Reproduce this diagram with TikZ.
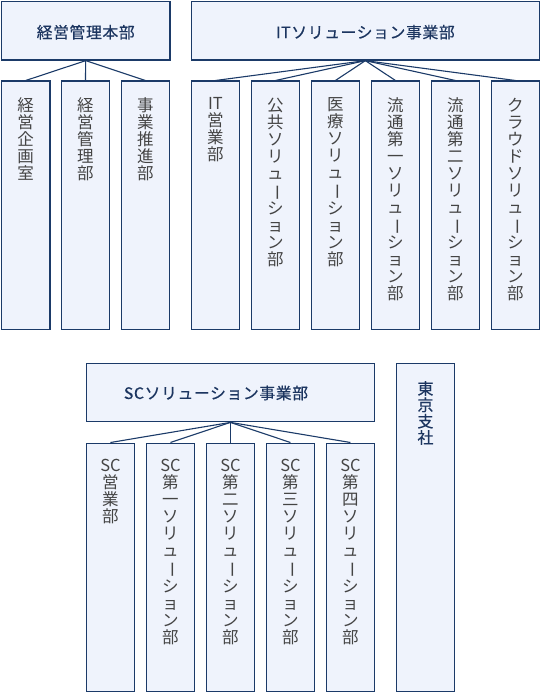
\documentclass[tikz,border=0pt]{standalone}
\usepackage{fontspec}
\usepackage{graphicx}
\setmainfont{Noto Sans CJK JP}
\newfontfamily\hdfont[LetterSpace=4,FakeBold=0.5]{Noto Sans CJK JP}
\newfontfamily\vfont{Noto Sans CJK JP}
\definecolor{bd}{HTML}{1B3A68}
\definecolor{bf}{HTML}{EFF3FC}
\definecolor{hd}{HTML}{1C3560}
\definecolor{tx}{HTML}{444444}
\newcommand{\vb}{\rotatebox[origin=c]{-90}{ー}}
\tikzset{
  box/.style={draw=bd, line width=1.4pt, fill=bf, inner sep=0pt, anchor=north west},
  hbox/.style={box, minimum height=58.5pt},
  cbox/.style={box, minimum width=48.5pt, minimum height=248.5pt},
  htext/.style={text=hd, font=\hdfont\fontsize{15.8}{17}\selectfont, inner sep=0pt},
  vt/.style={text=tx, font=\vfont\fontsize{16.5}{17}\selectfont, align=center, inner sep=0pt, anchor=north,
    execute at begin node={\rule{0pt}{0.88em}}},
  vth/.style={vt, text=hd, font=\hdfont\fontsize{16}{16.3}\selectfont},
  conn/.style={draw=bd, line width=1.1pt}
}
\begin{document}
\begin{tikzpicture}[x=1pt,y=-1pt]
\useasboundingbox (0,0) rectangle (540,692);
% headers
\node[hbox, minimum width=168.5pt] (h1) at (0.75,0.75) {};
\node[hbox, minimum width=348.3pt] (h2) at (190.5,0.75) {};
\node[hbox, minimum width=288.5pt] (h3) at (85.5,362.5) {};
\node[box, minimum width=58.5pt, minimum height=328.5pt] (tk) at (395.5,362.5) {};
\node[htext] (h1t) at ([yshift=-1.5pt]h1.center) {経営管理本部};
\node[htext] (h2t) at ([yshift=-1.5pt]h2.center) {ITソリューション事業部};
\node[htext] (h3t) at (216,393) {SCソリューション事業部};
% group 1 children
\node[cbox] (a1) at (0.75,80.5) {};
\node[cbox] (a2) at (60.5,80.5) {};
\node[cbox] (a3) at (120.5,80.5) {};
% group 2 children
\node[cbox] (b1) at (190.5,80.5) {};
\node[cbox] (b2) at (250.5,80.5) {};
\node[cbox] (b3) at (310.5,80.5) {};
\node[cbox] (b4) at (370.5,80.5) {};
\node[cbox] (b5) at (430.5,80.5) {};
\node[cbox] (b6) at (490.5,80.5) {};
% group 3 children
\node[cbox] (s1) at (85.5,442.5) {};
\node[cbox] (s2) at (145.5,442.5) {};
\node[cbox] (s3) at (205.5,442.5) {};
\node[cbox] (s4) at (265.5,442.5) {};
\node[cbox] (s5) at (325.5,442.5) {};
% connectors
\foreach \c in {a1,a2,a3} \draw[conn] (h1.south) -- (\c.north);
\foreach \c in {b1,b2,b3,b4,b5,b6} \draw[conn] (h2.south) -- (\c.north);
\foreach \c in {s1,s2,s3,s4,s5} \draw[conn] (h3.south) -- (\c.north);
% vertical texts
\node[vt] (a1t) at ([yshift=-16.5pt]a1.north) {経\\営\\企\\画\\室};
\node[vt] (a2t) at ([yshift=-16.5pt]a2.north) {経\\営\\管\\理\\部};
\node[vt] (a3t) at ([yshift=-16.5pt]a3.north) {事\\業\\推\\進\\部};
\node[vt] (b1t) at ([yshift=-16.5pt]b1.north) {IT\\営\\業\\部};
\node[vt] (b2t) at ([yshift=-17pt]b2.north) {公\\共\\ソ\\リ\\ュ\\\vb\\シ\\ョ\\ン\\部};
\node[vt] (b3t) at ([yshift=-17pt]b3.north) {医\\療\\ソ\\リ\\ュ\\\vb\\シ\\ョ\\ン\\部};
\node[vt] (b4t) at ([yshift=-17pt]b4.north) {流\\通\\第\\一\\ソ\\リ\\ュ\\\vb\\シ\\ョ\\ン\\部};
\node[vt] (b5t) at ([yshift=-17pt]b5.north) {流\\通\\第\\二\\ソ\\リ\\ュ\\\vb\\シ\\ョ\\ン\\部};
\node[vt] (b6t) at ([yshift=-17pt]b6.north) {ク\\ラ\\ウ\\ド\\ソ\\リ\\ュ\\\vb\\シ\\ョ\\ン\\部};
\node[vt] (s1t) at ([yshift=-16.7pt]s1.north) {SC\\営\\業\\部};
\node[vt] (s2t) at ([yshift=-16.7pt]s2.north) {SC\\第\\一\\ソ\\リ\\ュ\\\vb\\シ\\ョ\\ン\\部};
\node[vt] (s3t) at ([yshift=-16.7pt]s3.north) {SC\\第\\二\\ソ\\リ\\ュ\\\vb\\シ\\ョ\\ン\\部};
\node[vt] (s4t) at ([yshift=-16.7pt]s4.north) {SC\\第\\三\\ソ\\リ\\ュ\\\vb\\シ\\ョ\\ン\\部};
\node[vt] (s5t) at ([yshift=-16.7pt]s5.north) {SC\\第\\四\\ソ\\リ\\ュ\\\vb\\シ\\ョ\\ン\\部};
\node[vth] (tkt) at ([yshift=-18.5pt]tk.north) {東\\京\\支\\社};
\end{tikzpicture}
\end{document}
